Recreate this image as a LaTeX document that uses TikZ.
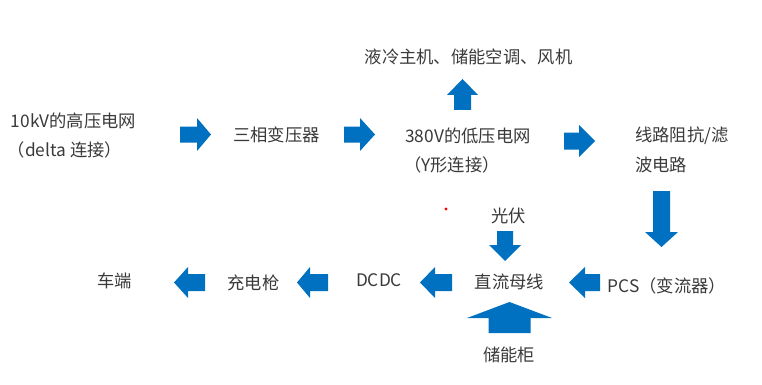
\documentclass[tikz,border=0pt]{standalone}
\usepackage{fontspec}
\setmainfont{Noto Sans CJK SC}
\definecolor{arrowblue}{HTML}{0070C0}
\definecolor{txt}{HTML}{3A3A3A}
\tikzset{
  lbl/.style={inner sep=0pt, text=txt, font=\fontsize{17.3}{20}\selectfont},
  arrowfill/.style={fill=arrowblue}
}
% horizontal block arrow: tail x, head base x, tip x, centre y, shaft half, head half
\newcommand\ArH[6]{\fill[arrowfill] ({#1},{#4-#5}) -- ({#2},{#4-#5}) -- ({#2},{#4-#6}) -- ({#3},{#4}) -- ({#2},{#4+#6}) -- ({#2},{#4+#5}) -- ({#1},{#4+#5}) -- cycle;}
% vertical block arrow: tail y, head base y, tip y, centre x, shaft half, head half
\newcommand\ArV[6]{\fill[arrowfill] ({#4-#5},{#1}) -- ({#4-#5},{#2}) -- ({#4-#6},{#2}) -- ({#4},{#3}) -- ({#4+#6},{#2}) -- ({#4+#5},{#2}) -- ({#4+#5},{#1}) -- cycle;}
\begin{document}
\begin{tikzpicture}[x=1pt,y=-1pt]
\useasboundingbox[fill=white] (0,0) rectangle (762,385);
% top row
\node[lbl] (hv) at (73.5,121) {10kV的高压电网};
\node[lbl] (hv2) at (65,150) {（delta 连接）};
\node[lbl] (tr) at (276.5,135) {三相变压器};
\node[lbl] (lv) at (468,136) {380V的低压电网};
\node[lbl] (lv2) at (452,165) {（Y形连接）};
\node[lbl] (aux) at (468.5,57) {液冷主机、储能空调、风机};
\node[lbl,anchor=west] (flt) at (635,136) {线路阻抗/滤};
\node[lbl,anchor=west] (flt2) at (635,165) {波电路};
% bottom row
\node[lbl] (pcs) at (667,286) {PCS（变流器）};
\node[lbl] (bus) at (509.5,282) {直流母线};
\node[lbl] (dcdc) at (379,280) {DCDC};
\node[lbl] (gun) at (253.5,283) {充电枪};
\node[lbl] (car) at (114.5,281) {车端};
\node[lbl] (pv) at (508.5,216) {光伏};
\node[lbl] (ess) at (509,355) {储能柜};
% arrows
\ArH{180}{197}{211}{134.5}{8}{16.5}
\ArH{344}{360}{375}{134.5}{8}{16.5}
\ArH{564}{579}{595}{141}{8.5}{16}
\ArH{205}{188}{174}{282.5}{8.5}{15.5}
\ArH{328}{310}{297}{282.5}{8.5}{15.5}
\ArH{452}{435}{420}{282.5}{8.5}{15.5}
\ArH{600}{585}{569}{282.5}{8.5}{15.5}
\ArV{110}{95}{79}{462.5}{8.5}{15.5}
\ArV{191}{232}{247}{661.5}{8.5}{16.5}
\ArV{231}{245}{261}{505}{8}{16}
\ArV{333}{318}{302}{509.5}{21}{42.5}
% red dot
\fill[red] (446,209) circle (1.6);
\end{tikzpicture}
\end{document}
